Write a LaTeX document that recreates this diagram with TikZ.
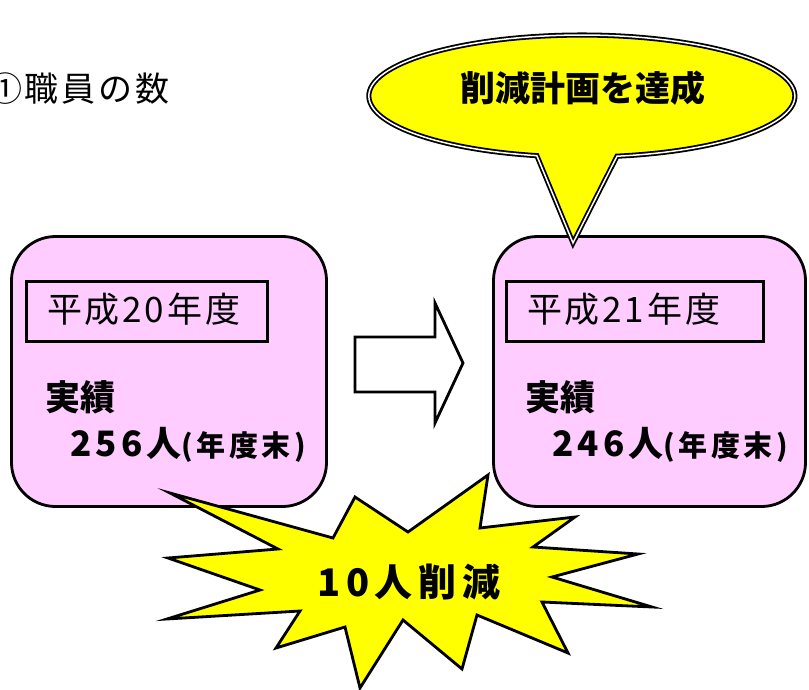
\documentclass[tikz,border=0pt]{standalone}
\usepackage{fontspec}
\setmainfont{Noto Sans CJK JP}
\usepackage{xcolor}
\usepackage{tikz}
\definecolor{boxpink}{RGB}{255,204,255}
\definecolor{burstyellow}{RGB}{255,255,0}

\begin{document}
\begin{tikzpicture}[x=1pt,y=-1pt,
    yearbox/.style={draw, line width=2.8pt, fill=boxpink, rounded corners=44pt, minimum height=270pt},
    yeartag/.style={draw, line width=2.6pt, minimum height=60pt},
    txt/.style={anchor=base west, inner sep=0pt},
    big/.style={font=\fontsize{35}{35}\selectfont\bfseries}]
    \useasboundingbox (0,0) rectangle (809,690);
    \node [yearbox, minimum width=315pt] (box20) at (169,371.5) {};
    \node [yearbox, minimum width=312pt] (box21) at (649.5,371.5) {};
    \node [yeartag, minimum width=241pt] (tag20) at (147,311.5) {};
    \node [yeartag, minimum width=257pt] (tag21) at (635,311.5) {};
    \draw [line width=2.8pt, fill=white] (355,337) -- (435,337) -- (435,303) -- (463,363) -- (435,423) -- (435,392) -- (355,392) -- cycle;
    \draw [fill=burstyellow, draw=black, double=white, double distance=1.5pt, line width=1.8pt]
        (617,156.2) arc [start angle=80.5, end angle=-257.8, x radius=213, y radius=61] -- (573,243) -- cycle;
    \draw [line width=2.8pt, fill=burstyellow] (170,493) -- (333,538) -- (355,497) -- (408,532) -- (488,475) -- (480,528) -- (575,517) -- (533,547) -- (638,554) -- (552,577) -- (652,607) -- (542,602) -- (568,653) -- (477,615) -- (462,669) -- (403,620) -- (360,688) -- (345,627) -- (276,648) -- (300,611) -- (167,619) -- (260,590) -- (168,558) -- (278,549) -- cycle;
    \node [txt, font=\fontsize{34}{34}\selectfont\addfontfeatures{LetterSpace=8}] (title) at (-12,102) {①職員の数};
    \node [big, anchor=base, inner sep=0pt] (goal) at (582.5,102) {削減計画を達成};
    \node [txt, font=\fontsize{35}{35}\selectfont\addfontfeatures{LetterSpace=8}] (year20) at (47,322) {平成20年度};
    \node [txt, font=\fontsize{35}{35}\selectfont\addfontfeatures{LetterSpace=8}] (year21) at (527,322) {平成21年度};
    \node [txt, big] (result20) at (45,410) {実績};
    \node [txt, big] (result21) at (525,410) {実績};
    \node [txt, big] (count20) at (70,456) {\addfontfeatures{LetterSpace=12}256人{\fontsize{29}{29}\selectfont(年度末)}};
    \node [txt, big] (count21) at (552,456) {\addfontfeatures{LetterSpace=12}246人{\fontsize{29}{29}\selectfont(年度末)}};
    \node [anchor=base west, inner sep=0pt, font=\fontsize{38}{38}\selectfont\bfseries\addfontfeatures{LetterSpace=15}] (cut) at (317,596) {10人削減};
\end{tikzpicture}
\end{document}
